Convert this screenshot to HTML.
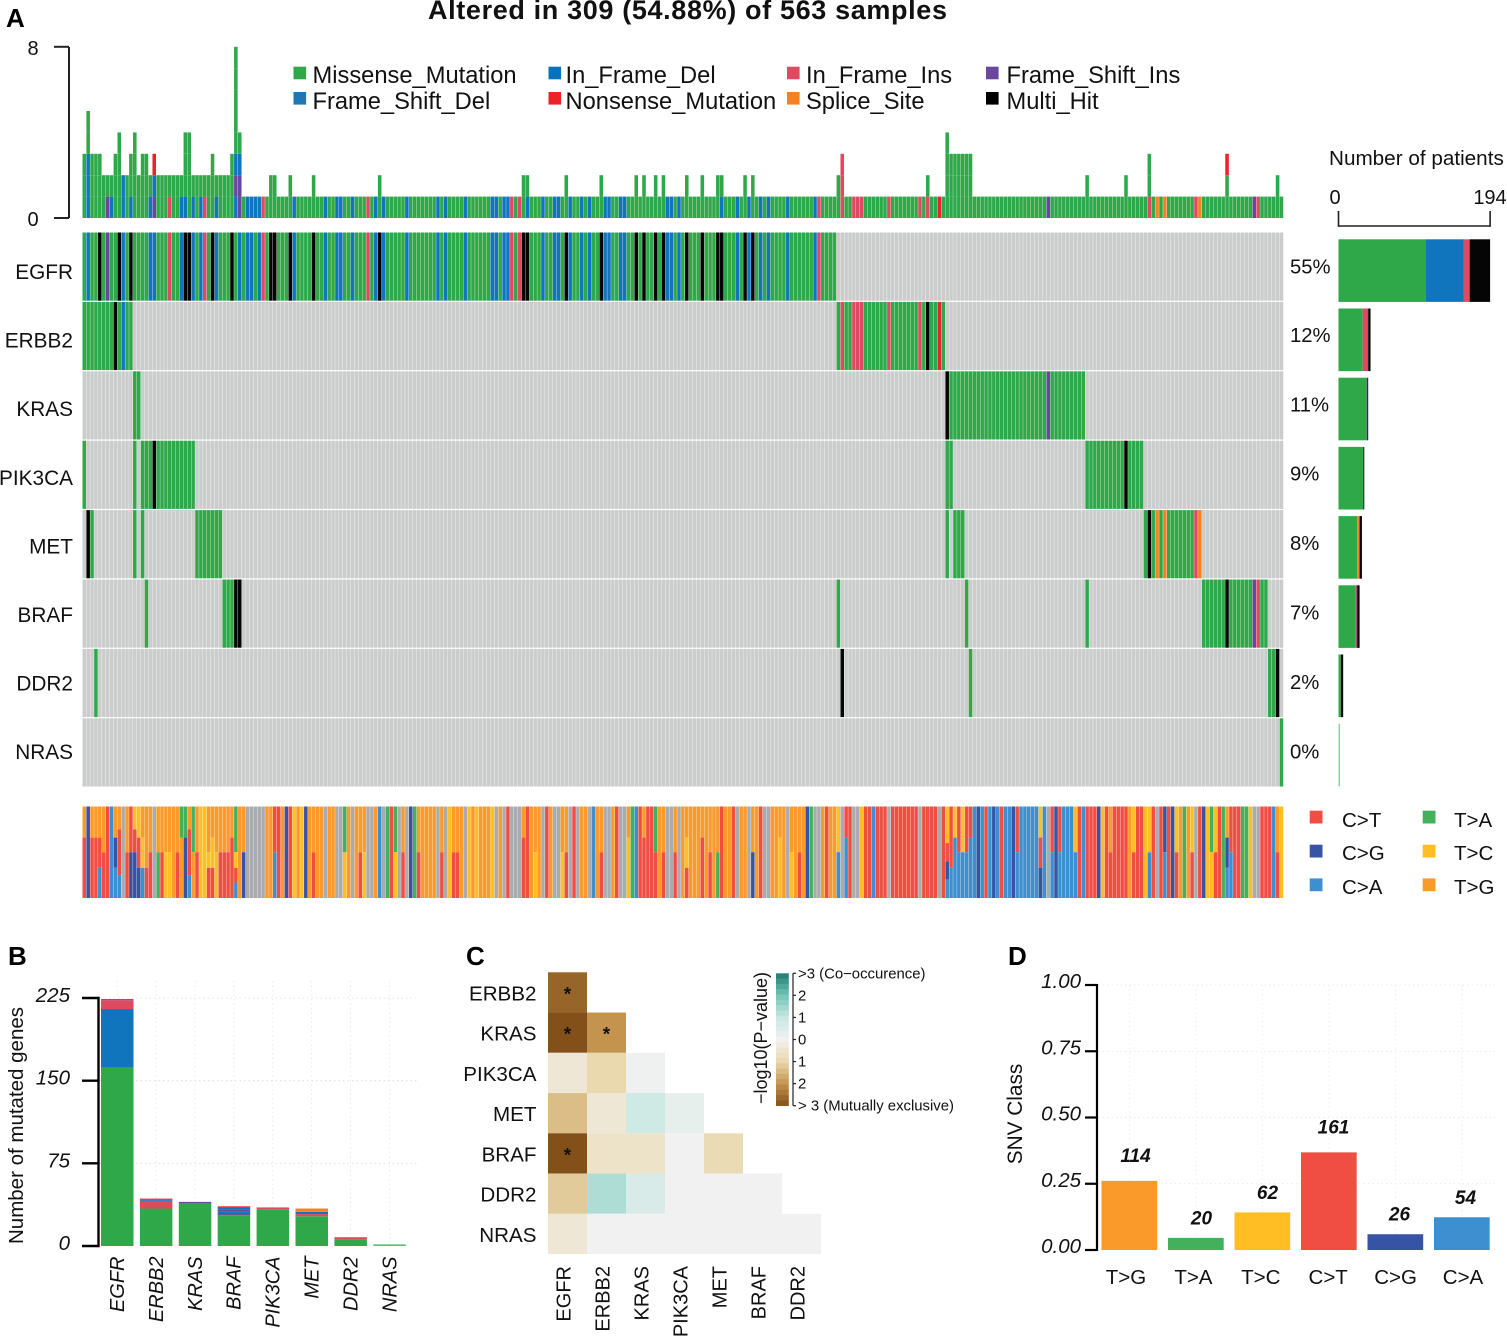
<!DOCTYPE html>
<html lang="en"><head><meta charset="utf-8"><title>Altered in 309 of 563 samples</title>
<style>
html,body{margin:0;padding:0;background:#fff}
svg{display:block;font-family:"Liberation Sans",sans-serif;fill:#111}
</style></head>
<body>
<svg id="fig" xmlns="http://www.w3.org/2000/svg" width="1507" height="1339" viewBox="0 0 1507 1339">
<rect width="1507" height="1339" fill="#fff"/>
<g font-weight="bold" font-size="26" fill="#000">
<text x="6" y="27">A</text>
<text x="8" y="965">B</text>
<text x="466" y="965">C</text>
<text x="1008" y="965">D</text>
</g>
<text x="428" y="19" font-size="27" font-weight="bold" textLength="519" lengthAdjust="spacing" fill="#111">Altered in 309 (54.88%) of 563 samples</text>
<g font-size="23.7">
<rect x="293.5" y="66.7" width="12.6" height="12.6" fill="#2fa84a"/><text x="312.5" y="83">Missense_Mutation</text>
<rect x="293.5" y="92" width="12.6" height="12.6" fill="#1f78b4"/><text x="312.5" y="109">Frame_Shift_Del</text>
<rect x="548.5" y="66.7" width="12.6" height="12.6" fill="#0a72bd"/><text x="565.5" y="83">In_Frame_Del</text>
<rect x="548.5" y="92" width="12.6" height="12.6" fill="#ee2128"/><text x="565.5" y="109">Nonsense_Mutation</text>
<rect x="787" y="66.7" width="12.6" height="12.6" fill="#e04a60"/><text x="806" y="83">In_Frame_Ins</text>
<rect x="787" y="92" width="12.6" height="12.6" fill="#f58220"/><text x="806" y="109">Splice_Site</text>
<rect x="986" y="66.7" width="12.6" height="12.6" fill="#6a479f"/><text x="1006.5" y="83">Frame_Shift_Ins</text>
<rect x="986" y="92" width="12.6" height="12.6" fill="#000"/><text x="1006.5" y="109">Multi_Hit</text>
</g>
<g font-size="20.5">
<rect x="1309.7" y="810.7" width="12.8" height="12.8" fill="#f04e42"/><text x="1342" y="827">C&gt;T</text>
<rect x="1309.7" y="844.7" width="12.8" height="12.8" fill="#3653a4"/><text x="1342" y="860">C&gt;G</text>
<rect x="1309.7" y="878.4" width="12.8" height="12.8" fill="#3d8fcf"/><text x="1342" y="894">C&gt;A</text>
<rect x="1422.7" y="810.7" width="12.8" height="12.8" fill="#43b05c"/><text x="1454" y="827">T&gt;A</text>
<rect x="1422.7" y="844.7" width="12.8" height="12.8" fill="#ffbe23"/><text x="1454" y="860">T&gt;C</text>
<rect x="1422.7" y="878.4" width="12.8" height="12.8" fill="#f99a2a"/><text x="1454" y="894">T&gt;G</text>
</g>
<text x="1329" y="165" font-size="20.7">Number of patients</text>
<text transform="translate(23,1125.5) rotate(-90)" text-anchor="middle" font-size="20.5">Number of mutated genes</text>
<text transform="translate(1022,1114) rotate(-90)" text-anchor="middle" font-size="20.8">SNV Class</text>
<text transform="translate(767,1038) rotate(-90)" text-anchor="middle" font-size="18">−log10(P−value)</text>
<g id="layer"></g>
</svg>
<script>
/* ---------- shared data ---------- */
const sampleCount = 309;
const genes = ["EGFR","ERBB2","KRAS","PIK3CA","MET","BRAF","DDR2","NRAS"];
const genePercents = [55,12,11,9,8,7,2,0];

/* oncoplot hits: "sample or range:type", later tokens override earlier ones */
const egfrHits = ["0-193:M","1:F","4:X","6:P","9:X","10:F","12:X","17-18:F","22:I","25:F","26-27:X","28:F","30:F","31:I","33:X","34:F","38:X","40:F","42-43:F","45:F","46:I","48-49:X","53:X","54:F","59:X","62:F","65-66:F","69:F","73:I","75:F","76:X","77:F","83:F","91:F","93:F","98:F","105-106:F","108-109:F","110:I","112:I","113-114:X","118:F","121-122:F","124:X","125:F","128:F","130:F","133:X","134-135:F","138-139:F","142:X","144:X","147:X","149:X","150-151:F","153:F","155:X","159:X","163-164:X","168:F","170:X","171:F","172:X","174:F","176:F","181:F","188:F","189:I"];
const erbb2Hits = ["0-12:M","8:X","10:F","194-221:M","195:I","198-200:I","207:I","215:I","217:X","220:N"];
const krasHits = ["13-14:M","222-257:M","222:X","248:P"];
const pik3caHits = ["0:M","13:M","15-28:M","18:X","222-223:M","258-272:M","268:X"];
const metHits = ["1:X","2:M","13:M","15:M","29-35:M","222:M","224-226:M","273-287:M","274:X","276:S","278:S","286:I","287:S"];
const brafHits = ["16:M","36-38:M","39-40:X","194:M","227:M","258:M","288-304:M","294:X","301:P","302:I"];
const ddr2Hits = ["3:M","195:X","228:M","305-306:M","307:X"];
const nrasHits = ["308:M"];

/* mutations per sample, stacked bottom to top; unlisted samples hold one missense */
const tmbStacks = ["0:MMM","1:FFFMM","2-4:MMM","5:MM","6:PM","7:FM","8:MMM","9:MMMM","10:FF","11:MM","12:FMM","13:MMMM","14:MM","15-16:MMM","17:FM","18:PFN","19-21:MM","22:IM","23-24:MM","25:FM","26:FMMM","27:MMMM","28:FM","29:MM","30:FM","31:IM","32:MM","33:MMM","34:FM","35-37:MM","38:MMM","39:FPFMMMMM","40:PPFM","42-45:F","46:I","48-49:MM","53:MM","54:F","59:MM","62:F","65-66:F","69:F","73:I","75:F","76:MM","77:F","83:F","91:F","93:F","98:F","105-106:F","108-109:F","110:I","112:I","113:MM","114:FM","118:F","121-122:F","124:MM","125:F","128:F","130:F","133:MM","134-135:F","138-139:F","142:MM","144:MM","147:MM","149:MM","150-151:F","153:F","155:MM","159:MM","163:MM","164:FM","168:F","170:MM","171:F","172:MM","174:F","176:F","181:F","188:F","189:I","194:MM","195:III","198-200:I","207:I","215:I","217:IM","220:N","222:MMMM","223-228:MMM","248:P","258:MM","268:MM","274:IMM","276:S","278:S","286:I","287:S","294:MMN","301:P","302:I","307:MM"];

/* SNV class share per sample, top to bottom; unlisted samples are all T>G */
const titvSamples = ["0:G34,T66","1:B","2-3:G34,T66","4:G34,T33,A33","5:G50,T50","6:T","7:A","8:G34,B33,A33","9:G25,T50,A25","10:N","11:G50,T50","12:T50,B50","13:Y25,T25,B50","14:Y34,T33,B33","15:G34,Y33,A33","16:G67,T33","17:G50,T50","18:N","19:G50,W50","20:G50,T50","21-22:G50,Y50","24:G50,T50","25:W34,G66","26:W34,B66","27:G25,T50,A25","28:W50,G50","29:G50,T50","30-31:Y","32:G50,Y17,T33","33:G34,Y33,T33","34:G50,Y50","35-37:G50,T50","38:G34,T66","39:W50,Y17,T16,A17","41:G50,B50","42-46:N","49:T50,A50","50:T","52:B","53:T","54:Y","56:Y","57:B","59:G50,T50","62:N","65-66:N","67:W50,Y50","69:N","71:G50,T50","72:G50,Y50","73-74:N","76:A","77:N","78:W","79:T","80:W50,Y50","81:N","82:G50,T50","83:N","84:B","85:W","86:G50,T50","91:N","92:G50,T50","93:N","94:Y","95-96:G50,T50","98:N","99:Y","101:Y","105:Y","106:N","108:N","109:T","110-112:N","113:G34,T66","114:T","116:G50,Y50","118:N","119:T","121-122:N","123:G50,Y50","124:G50,T50","125:N","126:T","127:N","130:N","131:A","133:G50,T50","134-135:N","137:T","138-139:N","140:G34,Y66","141:W","142:A","143:T","144:G34,T66","145-146:T","147:W50,T50","149:G50,T50","150-151:N","152:G50,T50","153:N","155:G34,Y33,T33","159:G34,T66","161:G50,T50","163:G50,W50","164:T","167:T","168:N","171:N","172:G50,B50","174:T","175-176:N","179:G34,Y66","181:N","182:G50,Y50","184:G50,T50","186:B","187:W","188-189:N","191:T","194:Y50,A50","195:N","196:T34,A66","197:T","198-199:N","200:Y","201-202:T","203:A","204-206:T","207:N","208-214:T","215:N","216-219:T","220:N","221:T","222:Y40,T20,B20,A20","223:T67,A33","224:Y34,A66","225:T50,A50","226:Y50,A50","227:T50,A50","228:T34,A66","229:A","230:B","231:A","232:T","233:A","234:B","235:A","236:T","237-238:A","239:B","240:T50,A50","241-245:A","246:Y34,T33,B33","247:A","248:N","249:T50,A50","250:B","251:T50,A50","252-254:A","255:Y50,A50","256:T","257:A","258-260:T","261:B","262:Y","263:T","264:G50,T50","265-268:T","269:G","270:Y50,T50","271-272:T","273:Y","274:Y50,A50","275:T","276:N","277:T","278:B50,A50","279:T","280:B","281:Y50,T50","282:G","283:W","284:G","285:Y50,T50","286:N","287:T","288:B","289:Y","290:W50,Y50","291:Y50,T50","292:T","293:W","294:G34,B33,A33","295:T50,A50","296-297:T","298-299:W","300:Y","301-302:N","303-305:T","306:A","307:G50,T50","308:Y"];

/* right-hand bars: patients per gene by type */
const patientCounts = [["M112","F48","I7","P1","X26"],["M31","I6","F1","X3"],["M36","P1","X1"],["M32","X1"],["M24","S3","X3"],["M22","I1","P1","X3"],["M3","X3"],["M2"]];
const patientAxisMax = 194;
const tmbTicks = [0,8];

/* panel B */
const panelBGenes = ["EGFR","ERBB2","KRAS","BRAF","PIK3CA","MET","DDR2","NRAS"];
const mutatedGeneCounts = [["M162","F53","I8","P1"],["M34","I7","F1","N1"],["M39","P1"],["M28","P1","F2","P2","F2","N1"],["M33","I2"],["M27","I2","F2","S3"],["M6","I2"],["M1.5"]];
const panelBTicks = [0,75,150,225];

/* panel C: signed -log10(P); negative = mutually exclusive */
const heatmapRowLabels = ["ERBB2","KRAS","PIK3CA","MET","BRAF","DDR2","NRAS"];
const heatmapColLabels = ["EGFR","ERBB2","KRAS","PIK3CA","MET","BRAF","DDR2"];
const heatmapRow0 = [-2.7];
const heatmapRow1 = [-3,-2];
const heatmapRow2 = [-0.4,-1,0.05];
const heatmapRow3 = [-1.4,-0.4,0.8,0.25];
const heatmapRow4 = [-3,-0.6,-0.6,0,-0.9];
const heatmapRow5 = [-1.2,1.3,0.6,0,0,0];
const heatmapRow6 = [-0.4,0,0,0,0,0,0];
const heatmapLegendTicks = [">3 (Co−occurence)","2","1","0","1","2","> 3 (Mutually exclusive)"];

/* panel D */
const snvClasses = ["T>G","T>A","T>C","C>T","C>G","C>A"];
const snvCounts = [114,20,62,161,26,54];
const snvTicks = [0,0.25,0.5,0.75,1];

/* ---------- drawing ---------- */
const NS = "http://www.w3.org/2000/svg";
const layer = document.getElementById("layer");
const mutColor = {M:"#2fa84a",F:"#1175bd",I:"#e04a60",P:"#6a479f",N:"#ee2128",S:"#f58220",X:"#050505"};
const snvColor = {T:"#f04e42",B:"#3653a4",A:"#3d8fcf",W:"#43b05c",Y:"#ffbe23",G:"#f99a2a",N:"#a9abae"};
const snvClassColor = {"T>G":"#f99a2a","T>A":"#43b05c","T>C":"#ffbe23","C>T":"#f04e42","C>G":"#3653a4","C>A":"#3d8fcf"};

function rect(x,y,w,h,fill,name){
  const el=document.createElementNS(NS,"rect");
  el.setAttribute("x",x.toFixed(2));el.setAttribute("y",y.toFixed(2));
  el.setAttribute("width",w.toFixed(2));el.setAttribute("height",h.toFixed(2));
  el.setAttribute("fill",fill);
  
  
  layer.appendChild(el);return el;
}
function line(x1,y1,x2,y2,color,width,name,dash){
  const el=document.createElementNS(NS,"line");
  el.setAttribute("x1",x1);el.setAttribute("y1",y1);el.setAttribute("x2",x2);el.setAttribute("y2",y2);
  el.setAttribute("stroke",color);el.setAttribute("stroke-width",width);
  if(dash)el.setAttribute("stroke-dasharray",dash);
  
  
  layer.appendChild(el);return el;
}
function text(str,x,y,size,anchor,name,opts){
  opts=opts||{};
  const el=document.createElementNS(NS,"text");
  el.textContent=str;
  if(opts.rotate){el.setAttribute("transform","translate("+x+","+y+") rotate(-90)");}
  else{el.setAttribute("x",x);el.setAttribute("y",y);}
  el.setAttribute("font-size",size);el.setAttribute("text-anchor",anchor);
  if(opts.italic)el.setAttribute("font-style","italic");
  if(opts.bold)el.setAttribute("font-weight","bold");
  
  
  layer.appendChild(el);return el;
}
function expand(tokens,fallback){
  const out=new Array(sampleCount).fill(fallback);
  tokens.forEach(function(t){
    const parts=t.split(":");const r=parts[0].split("-").map(Number);
    const end=r.length>1?r[1]:r[0];
    for(let i=r[0];i<=end;i++)out[i]=parts[1];
  });
  return out;
}
function slug(s){return s.toLowerCase().replace(/>/g,"-").replace(/[^a-z0-9-]/g,"");}

/* axis functions */
const colX=i=>82.5+3.887*i;
const colW=3.55;
const rowY=r=>232.5+69.4*r;
const rowH=68.2;
const tmbY=v=>218-21.4*v;
const patientX=v=>1338.5+v*(151.6/patientAxisMax);

/* TMB bars */
line(69,47,69,218,"#222",2,"tmb-axis-line");
tmbTicks.forEach(function(t){
  line(54,tmbY(t),69,tmbY(t),"#222",2,"tmb-axis-tick");
  text(String(t),33,tmbY(t)+8,20,"middle","tmb-axis-label");
});
expand(tmbStacks,"M").forEach(function(stack,i){
  stack.split("").forEach(function(code,k){
    rect(colX(i),tmbY(k+1),colW,21.4,mutColor[code],"tmb-bar-segment");
  });
});

/* oncoplot matrix */
[egfrHits,erbb2Hits,krasHits,pik3caHits,metHits,brafHits,ddr2Hits,nrasHits].forEach(function(tokens,r){
  const name=slug(genes[r]);
  expand(tokens,"").forEach(function(code,i){
    rect(colX(i),rowY(r),colW,rowH,code?mutColor[code]:"#cbcccc",code?"oncoplot-hit-"+name:"oncoplot-empty-"+name);
  });
  text(genes[r],73,272+68.6*r+7,20.8,"end","gene-label-"+name);
  text(genePercents[r]+"%",1290,rowY(r)+41-(r>0?1:0),20.3,"start","gene-percent-"+name);
  let acc=0;
  patientCounts[r].forEach(function(token){
    const v=Number(token.slice(1));
    const fill=r===7?"#8fd19e":mutColor[token[0]];
    rect(patientX(acc),239.3+69.2*r,patientX(acc+v)-patientX(acc),62.6,fill,"patient-bar-"+name);
    acc+=v;
  });
});

/* patient axis */
line(patientX(0),226,patientX(patientAxisMax),226,"#222",1.6,"patient-axis-line");
[0,patientAxisMax].forEach(function(t){
  line(patientX(t),211,patientX(t),226.8,"#222",1.6,"patient-axis-tick");
});
text("0",1335,204,20,"middle","patient-axis-label-min");
text(String(patientAxisMax),1490,204,20,"middle","patient-axis-label-max");

/* SNV strip */
const stripTop=806.5,stripH=91.5;
expand(titvSamples,"G").forEach(function(spec,i){
  let acc=0;
  spec.split(",").forEach(function(s){
    const pct=s.length>1?Number(s.slice(1)):100;
    rect(colX(i),stripTop+stripH*acc/100,colW,stripH*pct/100,snvColor[s[0]],"snv-strip-segment");
    acc+=pct;
  });
});

/* Panel B */
const bY=v=>1246-v*(248/225);
const bX=i=>101+38.9*i;
panelBTicks.slice(1).forEach(function(t){
  line(100,bY(t),417,bY(t),"#dcdcdc",0.8,"panel-b-gridline","1.5 3");
});
panelBGenes.forEach(function(g,i){
  line(bX(i)+16.2,981,bX(i)+16.2,1246,"#e6e6e6",0.8,"panel-b-gridline","1.5 3");
});
mutatedGeneCounts.forEach(function(stack,i){
  let acc=0;
  stack.forEach(function(token){
    const v=Number(token.slice(1));
    rect(bX(i),bY(acc+v),32.5,bY(acc)-bY(acc+v),i===7?"#5fbd75":mutColor[token[0]],"panel-b-bar-"+slug(panelBGenes[i]));
    acc+=v;
  });
  text(panelBGenes[i],bX(i)+23,1256.5,20,"end","panel-b-gene-label-"+slug(panelBGenes[i]),{rotate:true,italic:true});
});
line(98.5,bY(225)-1.2,98.5,bY(0)+1.2,"#000",2.4,"panel-b-axis-line");
panelBTicks.forEach(function(t){
  line(82,bY(t),98.5,bY(t),"#000",2.4,"panel-b-axis-tick");
  text(String(t),70,bY(t)+4,20.5,"end","panel-b-axis-label",{italic:true});
});

/* Panel C */
const stopsV=[-3,-2,-1,0,1,2,3];
const stopsC=[[131,80,26],[196,148,79],[234,217,174],[241,241,241],[199,231,226],[114,197,182],[31,122,110]];
function heatColor(v){
  v=Math.max(-3,Math.min(3,v));
  let k=0;while(k<5&&v>stopsV[k+1])k++;
  const f=(v-stopsV[k])/(stopsV[k+1]-stopsV[k]);
  const c=stopsC[k].map(function(a,j){return Math.round(a+(stopsC[k+1][j]-a)*f);});
  return "rgb("+c.join(",")+")";
}
const hX=c=>548+39*c;
const hY=r=>972.3+40.25*r;
[heatmapRow0,heatmapRow1,heatmapRow2,heatmapRow3,heatmapRow4,heatmapRow5,heatmapRow6].forEach(function(vals,r){
  vals.forEach(function(v,c){
    rect(hX(c),hY(r),39,40.25,heatColor(v),"heatmap-cell");
  });
  vals.forEach(function(v,c){
    if(v<=-2)text("*",hX(c)+19.5,hY(r)+28,19,"middle","heatmap-significance-star",{bold:true});
  });
  text(heatmapRowLabels[r],536.5,hY(r)+28,20.6,"end","heatmap-row-label-"+slug(heatmapRowLabels[r]));
});
heatmapColLabels.forEach(function(label,c){
  text(label,hX(c)+22.5,1266,20,"end","heatmap-col-label-"+slug(label),{rotate:true});
});
const legTop=973.3,legH=132.4,legBands=25;
for(let k=0;k<legBands;k++){
  rect(776,legTop+k*legH/legBands,12.8,legH/legBands+0.3,heatColor(3-6*(k+0.5)/legBands),"heatmap-legend-band");
}
line(793,legTop,793,legTop+legH,"#222",1.2,"heatmap-legend-axis");
heatmapLegendTicks.forEach(function(label,k){
  const y=legTop+k*legH/(heatmapLegendTicks.length-1);
  line(793,y,796,y,"#222",1.2,"heatmap-legend-tick");
  text(label,798,y+5,14.9,"start","heatmap-legend-label");
});

/* Panel D */
const snvTotal=snvCounts.reduce(function(a,b){return a+b;},0);
const dY=v=>1250-265*v;
const dX=i=>1101.5+66.5*i;
snvTicks.slice(1).forEach(function(t){
  line(1098,dY(t),1495,dY(t),"#e2e2e2",0.8,"panel-d-gridline","1.5 3");
});
snvClasses.forEach(function(cls,i){
  line(dX(i)+28,985,dX(i)+28,1250,"#ececec",0.8,"panel-d-gridline","1.5 3");
});
snvClasses.forEach(function(cls,i){
  const v=snvCounts[i]/snvTotal;
  rect(dX(i),dY(v),55.7,dY(0)-dY(v),snvClassColor[cls],"panel-d-bar-"+slug(cls));
  text(String(snvCounts[i]),1135.5+66*i,dY(v)-(snvCounts[i]>=100?19:13.5),19,"middle","panel-d-bar-value-"+slug(cls),{bold:true,italic:true});
  text(cls,1126+67.4*i,1284,20.5,"middle","panel-d-class-label-"+slug(cls));
});
line(1097,dY(1)-1,1097,dY(0)+1,"#000",2.2,"panel-d-axis-line");
snvTicks.forEach(function(t){
  line(1085,dY(t),1097,dY(t),"#000",2.2,"panel-d-axis-tick");
  text(t.toFixed(2),1081,dY(t)+3,20.5,"end","panel-d-axis-label",{italic:true});
});
</script>
</body></html>
